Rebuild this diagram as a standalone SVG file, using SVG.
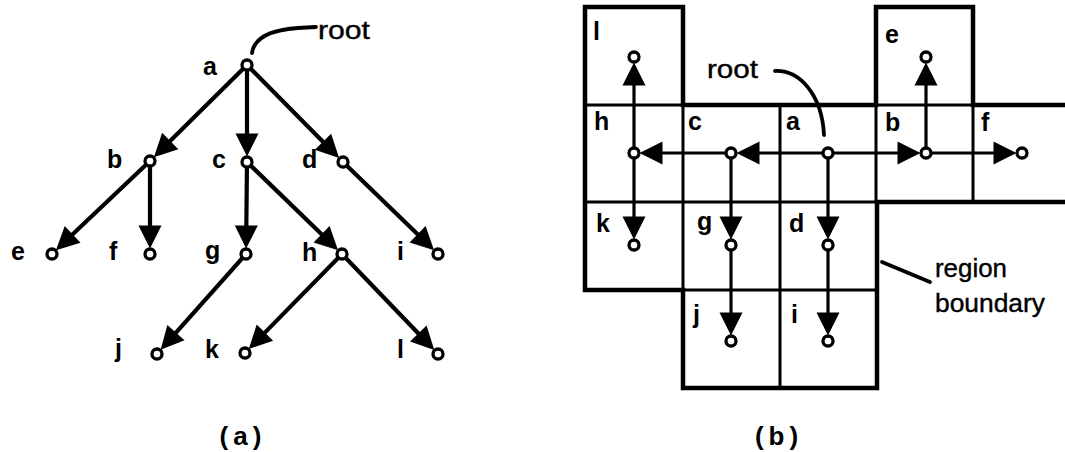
<svg xmlns="http://www.w3.org/2000/svg" width="1065" height="452" viewBox="0 0 1065 452">
<style>
.lbl{font-family:"Liberation Sans",Arial,sans-serif;font-weight:bold;font-size:25px;fill:#000}
.txt{font-family:"Liberation Sans",Arial,sans-serif;font-size:26px;fill:#000;stroke:#000;stroke-width:0.4}
.cap{font-family:"Liberation Sans",Arial,sans-serif;font-weight:bold;font-size:26px;fill:#000;letter-spacing:5px}
.ea{stroke:#000;stroke-width:4.2;fill:none;marker-end:url(#ah)}
.eb{stroke:#000;stroke-width:3.2;fill:none;marker-end:url(#ah)}
.nd{fill:#fff;stroke:#000;stroke-width:3.3}
.outer{fill:none;stroke:#000;stroke-width:4.5;stroke-linejoin:miter}
.inner{fill:none;stroke:#000;stroke-width:3}
.ptr{fill:none;stroke:#000;stroke-width:3.8;stroke-linecap:round}
</style>
<defs>
<marker id="ah" markerWidth="30" markerHeight="26" refX="15" refY="13" orient="auto" markerUnits="userSpaceOnUse" overflow="visible">
<path d="M25,13 L2,1.5 L2,24.5 Z" fill="#000"/>
</marker>
</defs>

<!-- (a) tree -->
<g id="connectors-a">
<line class="ea" x1="247" y1="65" x2="161" y2="150.1"/>
<line class="ea" x1="247" y1="65" x2="247" y2="146.5"/>
<line class="ea" x1="247" y1="65" x2="332.1" y2="151"/>
<line class="ea" x1="150" y1="161" x2="63.2" y2="243.3"/>
<line class="ea" x1="150" y1="161" x2="150" y2="238.5"/>
<line class="ea" x1="247" y1="162" x2="246.2" y2="238.5"/>
<line class="ea" x1="247" y1="162" x2="330.9" y2="243.2"/>
<line class="ea" x1="343" y1="162" x2="426.9" y2="243.2"/>
<line class="ea" x1="246" y1="254" x2="167.3" y2="342.4"/>
<line class="ea" x1="342" y1="254" x2="255.8" y2="341.9"/>
<line class="ea" x1="342" y1="254" x2="427.3" y2="342.8"/>
</g>
<g id="root-a">
<path class="ptr" d="M252,53 C254,38 270,30 298,28 L316,27"/>
<text class="txt" x="318" y="39" textLength="52" lengthAdjust="spacingAndGlyphs">root</text>
</g>
<g id="a-a"><circle class="nd" cx="247" cy="65" r="5"/><text class="lbl" x="203" y="75">a</text></g>
<g id="a-b"><circle class="nd" cx="150" cy="161" r="5"/><text class="lbl" x="107" y="168">b</text></g>
<g id="a-c"><circle class="nd" cx="247" cy="162" r="5"/><text class="lbl" x="212" y="168">c</text></g>
<g id="a-d"><circle class="nd" cx="343" cy="162" r="5"/><text class="lbl" x="302" y="168">d</text></g>
<g id="a-e"><circle class="nd" cx="52" cy="254" r="5"/><text class="lbl" x="11" y="260">e</text></g>
<g id="a-f"><circle class="nd" cx="150" cy="254" r="5"/><text class="lbl" x="109" y="260">f</text></g>
<g id="a-g"><circle class="nd" cx="246" cy="254" r="5"/><text class="lbl" x="205" y="259">g</text></g>
<g id="a-h"><circle class="nd" cx="342" cy="254" r="5"/><text class="lbl" x="302" y="261">h</text></g>
<g id="a-i"><circle class="nd" cx="438" cy="254" r="5"/><text class="lbl" x="397" y="260">i</text></g>
<g id="a-j"><circle class="nd" cx="157" cy="354" r="5"/><text class="lbl" x="115" y="357">j</text></g>
<g id="a-k"><circle class="nd" cx="245" cy="353" r="5"/><text class="lbl" x="205" y="358">k</text></g>
<g id="a-l"><circle class="nd" cx="438" cy="354" r="5"/><text class="lbl" x="397" y="358">l</text></g>
<text class="cap" x="243" y="445" text-anchor="middle">(a)</text>

<!-- (b) region grid -->
<g id="regions">
<path class="outer" d="M1070,105 H973 V7 H876 V105 H683 V7 H585 V290 H683 V388 H877 V202 H1070"/>
<path class="inner" d="M683,105 V290 M780,105 V388 M876,105 V202 M973,105 V202 M585,105 H683 M876,105 H973 M585,202 H877 M683,290 H877"/>
</g>
<g id="connectors-b">
<line class="eb" x1="828" y1="153" x2="746.5" y2="153"/>
<line class="eb" x1="731" y1="153" x2="649.5" y2="153"/>
<line class="eb" x1="828" y1="153" x2="910.5" y2="153"/>
<line class="eb" x1="926" y1="153" x2="1006.5" y2="153"/>
<line class="eb" x1="926" y1="153" x2="926" y2="72.5"/>
<line class="eb" x1="634" y1="153" x2="634" y2="72.5"/>
<line class="eb" x1="634" y1="153" x2="634" y2="229.5"/>
<line class="eb" x1="731" y1="153" x2="731" y2="229.5"/>
<line class="eb" x1="828" y1="153" x2="828" y2="229.5"/>
<line class="eb" x1="731" y1="245" x2="731" y2="325.5"/>
<line class="eb" x1="828" y1="245" x2="828" y2="325.5"/>
</g>
<g id="root-b">
<text class="txt" x="707" y="78" textLength="51" lengthAdjust="spacingAndGlyphs">root</text>
<path class="ptr" d="M775,71 C800,70 822,95 824,135"/>
</g>
<g id="b-l"><circle class="nd" cx="634" cy="57" r="5"/><text class="lbl" x="593" y="40">l</text></g>
<g id="b-e"><circle class="nd" cx="926" cy="57" r="5"/><text class="lbl" x="885" y="43">e</text></g>
<g id="b-h"><circle class="nd" cx="634" cy="153" r="5"/><text class="lbl" x="594" y="130">h</text></g>
<g id="b-c"><circle class="nd" cx="731" cy="153" r="5"/><text class="lbl" x="688" y="130">c</text></g>
<g id="b-a"><circle class="nd" cx="828" cy="153" r="5"/><text class="lbl" x="786" y="130">a</text></g>
<g id="b-b"><circle class="nd" cx="926" cy="153" r="5"/><text class="lbl" x="885" y="131">b</text></g>
<g id="b-f"><circle class="nd" cx="1022" cy="153" r="5"/><text class="lbl" x="981" y="131">f</text></g>
<g id="b-k"><circle class="nd" cx="634" cy="245" r="5"/><text class="lbl" x="596" y="232">k</text></g>
<g id="b-g"><circle class="nd" cx="731" cy="245" r="5"/><text class="lbl" x="697" y="230">g</text></g>
<g id="b-d"><circle class="nd" cx="828" cy="245" r="5"/><text class="lbl" x="789" y="232">d</text></g>
<g id="b-j"><circle class="nd" cx="731" cy="341" r="5"/><text class="lbl" x="693" y="323">j</text></g>
<g id="b-i"><circle class="nd" cx="828" cy="341" r="5"/><text class="lbl" x="791" y="323">i</text></g>
<g id="boundary-label">
<path class="ptr" d="M882,262 L930,282"/>
<text class="txt" x="935" y="277" textLength="72" lengthAdjust="spacingAndGlyphs">region</text>
<text class="txt" x="935" y="312" textLength="110" lengthAdjust="spacingAndGlyphs">boundary</text>
</g>
<text class="cap" x="779" y="445" text-anchor="middle">(b)</text>
</svg>
